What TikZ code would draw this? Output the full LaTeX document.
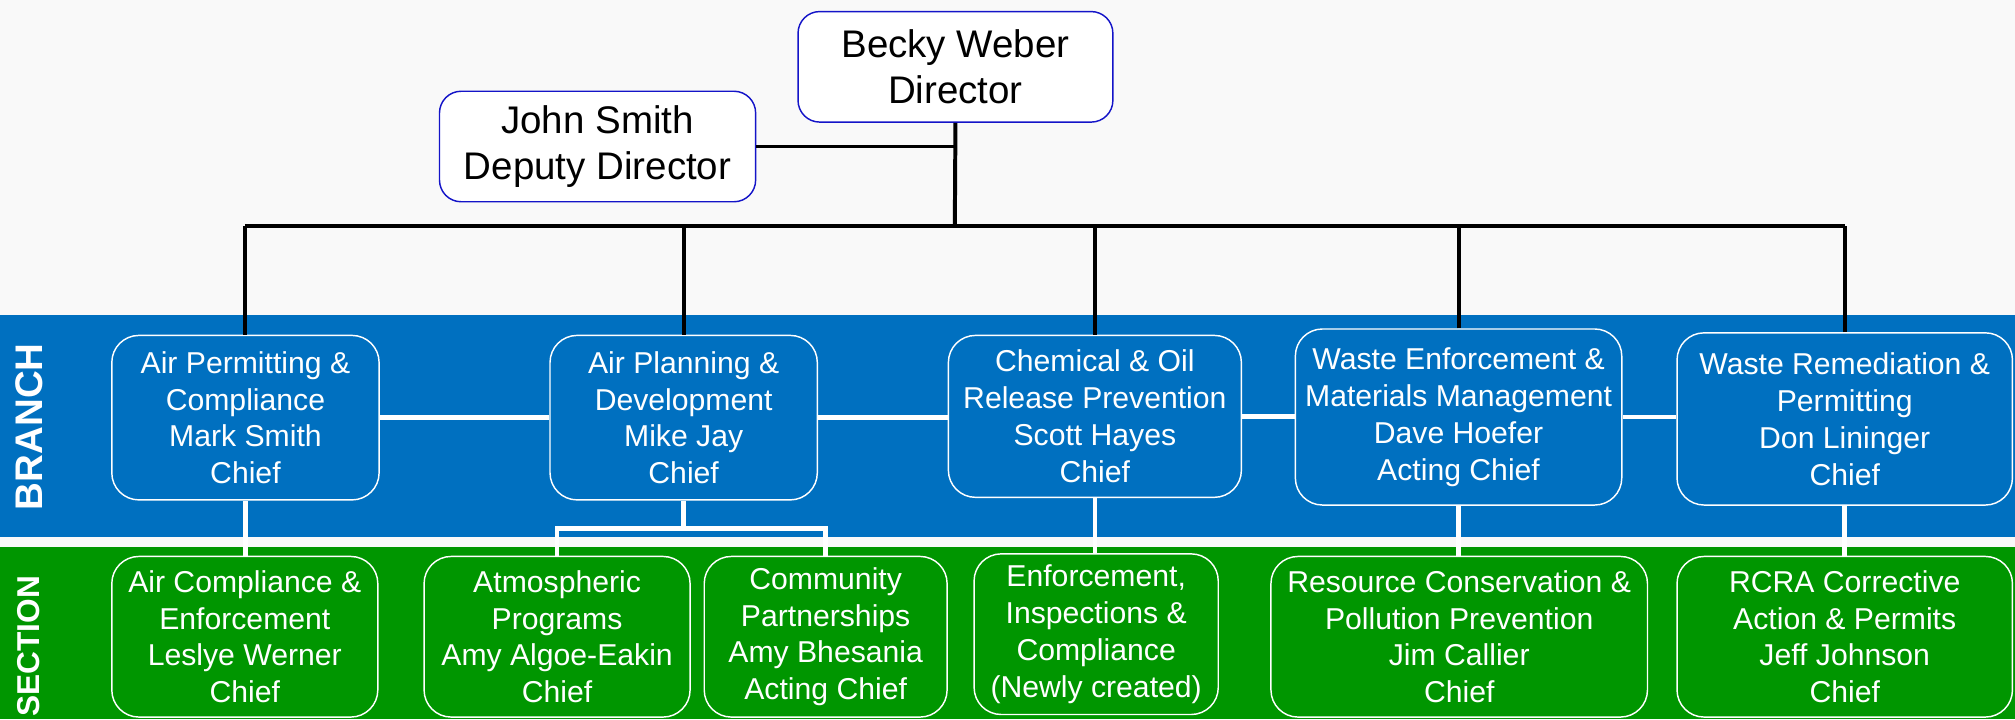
\documentclass[tikz,border=0pt]{standalone}
\usepackage{fontspec}
\setmainfont{Liberation Sans}
\definecolor{branchblue}{RGB}{0,112,192}
\definecolor{sectgreen}{RGB}{0,150,0}
\definecolor{topline}{RGB}{20,20,200}
\definecolor{paper}{RGB}{249,249,249}
\begin{document}
\begin{tikzpicture}[x = 0.25mm, y = -0.25mm,
  topbox/.style = {draw = topline, line width = 0.8pt, fill = white, rounded corners = 12pt, align = center, inner sep = 0pt, font = \fontsize{21.3}{25.6}\selectfont},
  branchbox/.style = {draw = white, line width = 0.8pt, fill = branchblue, text = white, rounded corners = 15pt, align = center, inner sep = 0pt, font = \fontsize{16.7}{20.4}\selectfont},
  sectbox/.style = {branchbox, fill = sectgreen},
  boss/.style = {line width = 2.2pt, black},
  wire/.style = {line width = 2.6pt, white},
  band/.style = {rotate = 90, text = white, font = \fontsize{21.3}{25}\selectfont\bfseries}]
\useasboundingbox (0, 0) rectangle (1568, 559.5);
\fill[paper] (0, 0) rectangle (1568, 559.5);
\fill[branchblue] (0, 245) rectangle (1568, 418);
\fill[sectgreen] (0, 426) rectangle (1568, 559.5);

\node[band] (brlabel) at (22.6, 332) {BRANCH};
\node[band, font = \fontsize{17.5}{20}\selectfont\bfseries] (selabel) at (22, 503) {SECTION};

\node[topbox, minimum width = 61.25mm, minimum height = 21.5mm] (becky) at (743.5, 52) {Becky Weber\\Director};
\node[topbox, minimum width = 61.5mm, minimum height = 21.5mm] (john) at (465, 114) {John Smith\\Deputy Director};

\node[branchbox, minimum width = 52mm, minimum height = 32mm] (b1) at (191, 325) {Air Permitting \&\\Compliance\\Mark Smith\\Chief};
\node[branchbox, minimum width = 52mm, minimum height = 32mm] (b2) at (532, 325) {Air Planning \&\\Development\\Mike Jay\\Chief};
\node[branchbox, minimum width = 57mm, minimum height = 31.5mm] (b3) at (852, 324) {Chemical \& Oil\\Release Prevention\\Scott Hayes\\Chief};
\node[branchbox, minimum width = 63.5mm, minimum height = 34.25mm] (b4) at (1135, 324.5) {Waste Enforcement \&\\Materials Management\\Dave Hoefer\\Acting Chief};
\node[branchbox, minimum width = 65.25mm, minimum height = 33.5mm] (b5) at (1435.5, 326) {Waste Remediation \&\\Permitting\\Don Lininger\\Chief};

\node[sectbox, minimum width = 51.75mm, minimum height = 31.25mm] (s1) at (190.5, 495.5) {Air Compliance \&\\Enforcement\\Leslye Werner\\Chief};
\node[sectbox, minimum width = 51.75mm, minimum height = 31.25mm] (s2) at (433.5, 495.5) {Atmospheric\\Programs\\Amy Algoe-Eakin\\Chief};
\node[sectbox, minimum width = 47.25mm, minimum height = 31.25mm] (s3) at (642.5, 495.5) {Community\\Partnerships\\Amy Bhesania\\Acting Chief};
\node[sectbox, minimum width = 47.5mm, minimum height = 31.25mm] (s4) at (853, 493.5) {Enforcement,\\Inspections \&\\Compliance\\(Newly created)};
\node[sectbox, minimum width = 73.25mm, minimum height = 31.25mm] (s5) at (1135.5, 495.5) {Resource Conservation \&\\Pollution Prevention\\Jim Callier\\Chief};
\node[sectbox, minimum width = 65.25mm, minimum height = 31.25mm] (s6) at (1435.5, 495.5) {RCRA Corrective\\Action \& Permits\\Jeff Johnson\\Chief};

\coordinate (bus) at (743, 176);
\coordinate (apd) at (532, 411);
\draw[boss] (becky.south) -- (bus);
\draw[boss] (john.east) -- (john.east -| becky.south);
\draw[boss] (b1.north |- bus) -- (b5.north |- bus);
\foreach \b in {b1, b2, b3, b4, b5} \draw[boss] (\b.north) -- (\b.north |- bus);

\foreach \a/\b in {b1/b2, b2/b3, b3/b4, b4/b5} \draw[wire] (\a.east) -- (\a.east -| \b.west);
\draw[wire] (b2.south) -- (apd);
\draw[wire] (s2.north) |- (apd) -| (s3.north);
\foreach \a/\b in {b1/s1, b3/s4, b4/s5, b5/s6} \draw[wire] (\a.south) -- (\a.south |- \b.north);
\end{tikzpicture}
\end{document}
